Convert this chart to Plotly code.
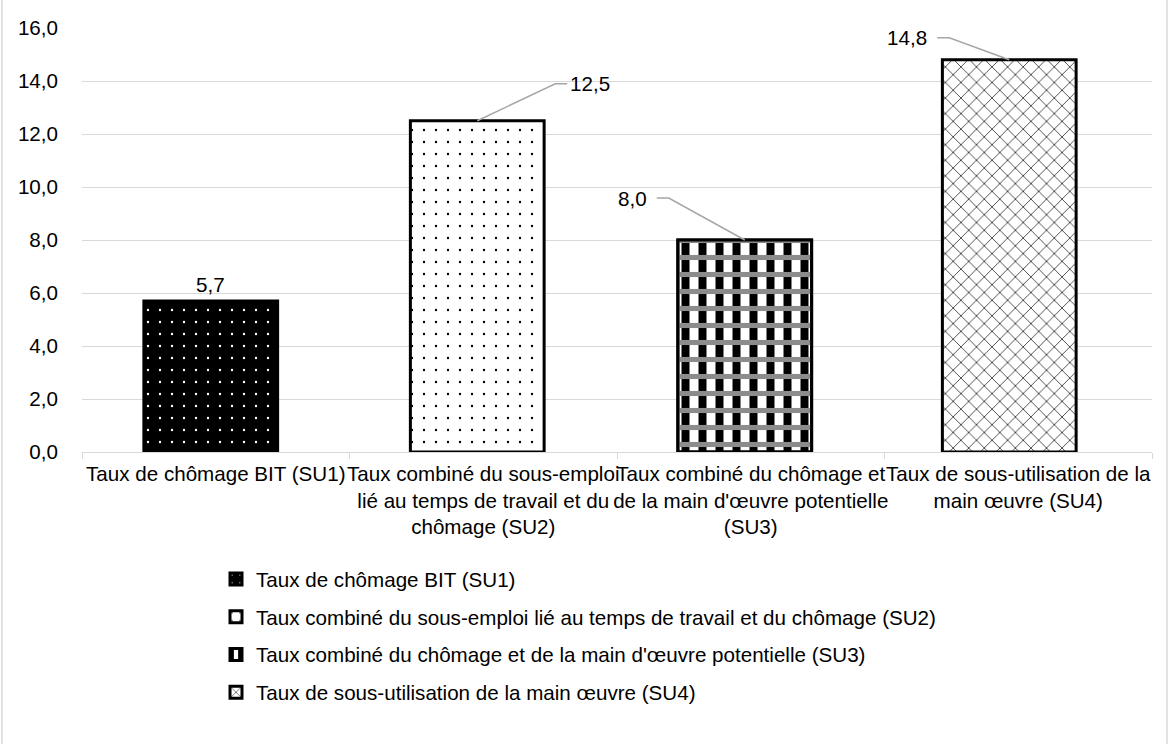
import plotly.graph_objects as go

# Categories (axis labels), legend names and values
categories = [
    "Taux de chômage BIT (SU1)",
    "Taux combiné du sous-emploi<br>lié au temps de travail et du<br>chômage (SU2)",
    "Taux combiné du chômage et<br>de la main d'œuvre potentielle<br>(SU3)",
    "Taux de sous-utilisation de la<br>main œuvre (SU4)",
]
legend_names = [
    "Taux de chômage BIT (SU1)",
    "Taux combiné du sous-emploi lié au temps de travail et du chômage (SU2)",
    "Taux combiné du chômage et de la main d'œuvre potentielle (SU3)",
    "Taux de sous-utilisation de la main œuvre (SU4)",
]
values = [5.7, 12.5, 8.0, 14.8]
y_ticks = [0, 2, 4, 6, 8, 10, 12, 14, 16]

FONT = "Liberation Sans, Arial, sans-serif"
FS = 20.6
GRID = "#d9d9d9"
LEADER = "#a6a6a6"

# Layout geometry
L, R, T, B = 82, 17, 28, 292
W, H = 1169, 744
pw, ph = W - L - R, H - T - B
cat_px = pw / len(categories)

# Bars sit slightly left of their category centre (pixels)
bar_shift_px = [-5, -6, -6, -9]
BAR_W = 0.5

# Fill patterns per bar
patterns = [
    dict(shape=".", bgcolor="#000000", fgcolor="#ffffff", fgopacity=1, size=12, solidity=0.03),
    dict(shape=".", bgcolor="#ffffff", fgcolor="#000000", fgopacity=1, size=12, solidity=0.03),
    dict(shape="|", bgcolor="#ffffff", fgcolor="#000000", fgopacity=1, size=17, solidity=0.47),
    dict(shape="x", bgcolor="#ffffff", fgcolor="#000000", fgopacity=1, size=11, solidity=0.12),
]

fig = go.Figure()
for i, (cat, name, val) in enumerate(zip(categories, legend_names, values)):
    off = -BAR_W / 2 + bar_shift_px[i] / cat_px
    fig.add_trace(go.Bar(
        x=[cat], y=[val], name=name, width=BAR_W, offset=off,
        legendgroup=f"g{i}",
        marker=dict(color=patterns[i]["bgcolor"], pattern=dict(fillmode="overlay", **patterns[i]),
                    line=dict(color="#000000", width=3)),
        hoverinfo="skip",
    ))
    if i == 2:
        # grey horizontal bands woven over the vertical stripes
        fig.add_trace(go.Bar(
            x=[cat], y=[val], width=BAR_W, offset=off, showlegend=False, legendgroup=f"g{i}",
            marker=dict(color="rgba(0,0,0,0)",
                        pattern=dict(shape="-", bgcolor="rgba(0,0,0,0)", fgcolor="#8c8c8c",
                                     fgopacity=1, size=17, solidity=0.3, fillmode="overlay"),
                        line=dict(color="#000000", width=3)),
            hoverinfo="skip",
        ))

# Value labels with leader lines (pixel offsets from the bar top centre)
label_style = [
    dict(kind="above"),
    dict(kind="leader", diag=(78, 37), elbow=(90, 37), side="right", tx=91),
    dict(kind="leader", diag=(-76, 42), elbow=(-88, 42), side="left", tx=-96),
    dict(kind="leader", diag=(-60, 22), elbow=(-72, 22), side="left", tx=-80),
]
for i, (cat, val, st) in enumerate(zip(categories, values, label_style)):
    txt = f"{val:.1f}".replace(".", ",")
    sx = bar_shift_px[i]
    if st["kind"] == "above":
        fig.add_annotation(x=cat, y=val, text=txt, showarrow=False, xshift=sx,
                           yanchor="bottom", yshift=3, font=dict(size=FS))
    else:
        (dx1, dy1), (dx2, dy2) = st["diag"], st["elbow"]
        fig.add_shape(type="path", xref="x", yref="y",
                      xsizemode="pixel", ysizemode="pixel",
                      xanchor=cat, yanchor=val,
                      path=f"M{sx},0 L{sx + dx1},{dy1} L{sx + dx2},{dy2}",
                      line=dict(color=LEADER, width=1.5))
        fig.add_annotation(x=cat, y=val, text=txt, showarrow=False,
                           xanchor="left" if st["side"] == "right" else "right",
                           xshift=sx + st["tx"], yshift=dy2, font=dict(size=FS))

# Outer frame of the chart area
fig.add_shape(type="rect", xref="paper", yref="paper",
              x0=(2 - L) / pw, x1=(W - 2 - L) / pw,
              y0=-(H - T - ph + 10) / ph, y1=1 + (T + 10) / ph,
              line=dict(color=GRID, width=1.5), fillcolor="rgba(0,0,0,0)", layer="below")

fig.update_layout(
    width=W, height=H,
    margin=dict(l=L, r=R, t=T, b=B),
    paper_bgcolor="#ffffff", plot_bgcolor="#ffffff",
    font=dict(family=FONT, size=FS, color="#000000"),
    barmode="overlay",
    separators=", ",
    showlegend=True,
    legend=dict(x=(216 - L) / pw, xanchor="left", y=-(559 - 452) / ph, yanchor="top",
                orientation="v", tracegroupgap=8, font=dict(size=FS),
                bgcolor="rgba(0,0,0,0)"),
    xaxis=dict(showgrid=False, showline=True, linecolor=GRID, linewidth=1,
               ticks="outside", tickson="boundaries", ticklen=6, tickcolor=GRID,
               ticklabelstandoff=3, tickangle=0, fixedrange=True),
    yaxis=dict(range=[0, 16], tickvals=y_ticks, tickformat=".1f",
               showgrid=True, gridcolor=GRID, gridwidth=1, zeroline=False,
               showline=False, ticks="", ticklabelstandoff=23, fixedrange=True),
)

fig.write_html("out.html")
